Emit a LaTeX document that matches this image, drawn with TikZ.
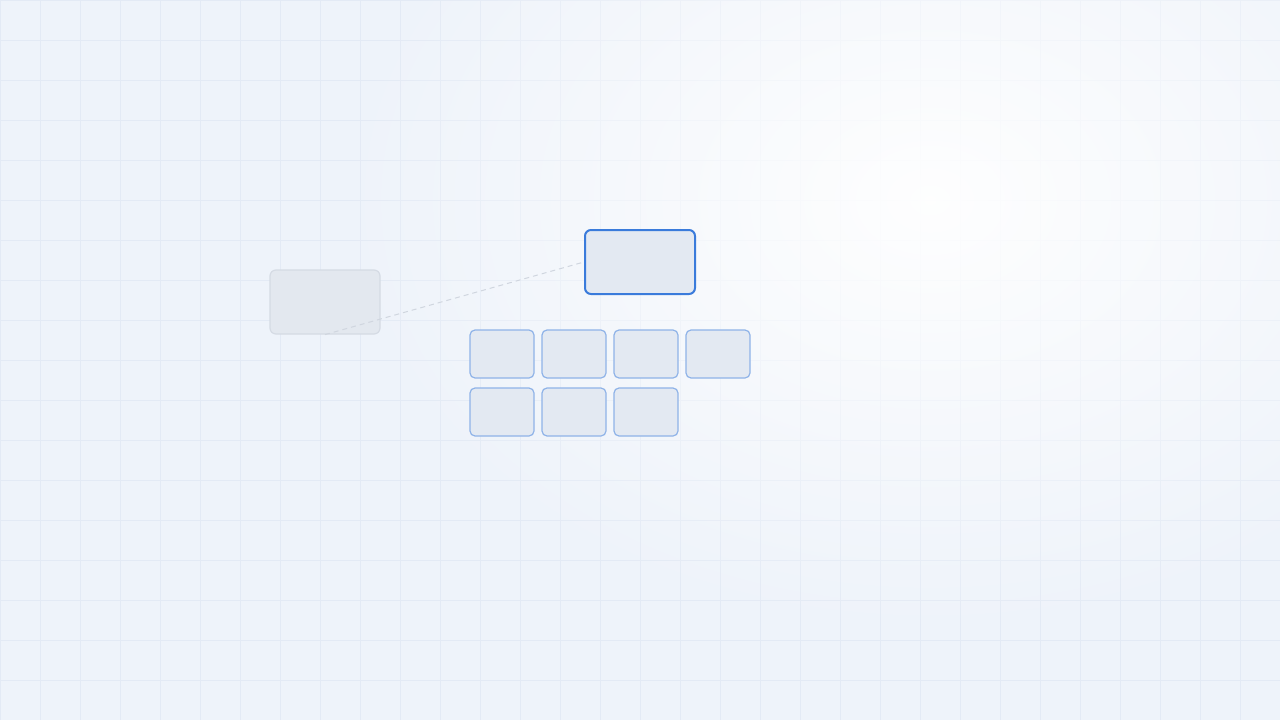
\documentclass[tikz,border=0pt]{standalone}
\usetikzlibrary{fadings}
\definecolor{bgc}{HTML}{EEF3FA}
\definecolor{gridc}{HTML}{E3EAF5}
\definecolor{grayfill}{HTML}{E3E8EF}
\definecolor{grayline}{HTML}{D5DBE4}
\definecolor{boxfill}{HTML}{E3E9F2}
\definecolor{mainblue}{HTML}{3A7BDB}
\definecolor{lightblue}{HTML}{8FB3E8}
\definecolor{dashc}{HTML}{D0D6DF}
\tikzfading[name=glowfade, inner color=transparent!0, outer color=transparent!100]
\tikzset{
  ghostbox/.style={rectangle, rounded corners=6pt, fill=grayfill, draw=grayline, line width=1.2pt, minimum width=110pt, minimum height=64pt, inner sep=0pt},
  activebox/.style={rectangle, rounded corners=6pt, fill=boxfill, draw=mainblue, line width=2pt, minimum width=110pt, minimum height=64pt, inner sep=0pt},
  cellbox/.style={rectangle, rounded corners=5pt, fill=boxfill, draw=lightblue, line width=1.2pt, minimum width=64pt, minimum height=48pt, inner sep=0pt},
  linkline/.style={draw=dashc, line width=1pt, dash pattern=on 5pt off 4pt}
}
\begin{document}
\begin{tikzpicture}[x=1pt,y=-1pt]
\useasboundingbox (0,0) rectangle (1280,720);
\fill[bgc] (0,0) rectangle (1280,720);
\foreach \gx in {0,40,...,1280} {\draw[gridc, line width=1pt] (\gx,0) -- (\gx,720);}
\foreach \gy in {0,40,...,720} {\draw[gridc, line width=1pt] (0,\gy) -- (1280,\gy);}
\fill[white, path fading=glowfade, fill opacity=0.95] (930,200) ellipse (600 and 440);
\node[ghostbox] (ghost) at (325,302) {};
\node[activebox] (active) at (640,262) {};
\draw[linkline] (ghost.south) -- (active.west);
\node[cellbox] (c1) at (502,354) {};
\node[cellbox] (c2) at (574,354) {};
\node[cellbox] (c3) at (646,354) {};
\node[cellbox] (c4) at (718,354) {};
\node[cellbox] (c5) at (502,412) {};
\node[cellbox] (c6) at (574,412) {};
\node[cellbox] (c7) at (646,412) {};
\end{tikzpicture}
\end{document}
